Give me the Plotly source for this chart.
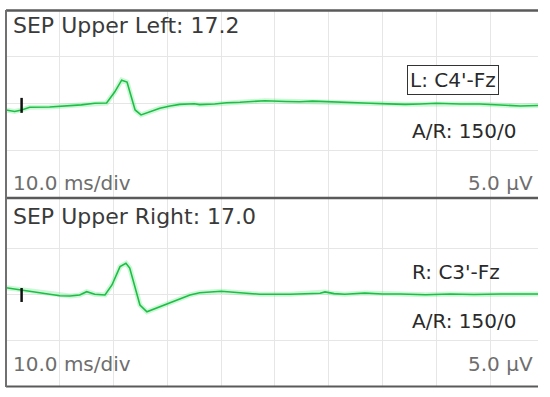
import plotly.graph_objects as go

# time in ms, amplitude in uV
left_t = [0, 1.6, 2.9, 4.4, 8.1, 11.9, 14.0, 16.5, 18.7, 20.2, 21.5, 22.5, 23.2, 24.0, 25.1,
          26.7, 28.6, 30.5, 32.3, 35.0, 36.0, 38.8, 41.0, 43.5, 48.1, 52.0, 54.6, 57.0, 60.2,
          63.0, 67.7, 71.0, 74.2, 77.0, 80.0, 84.4, 88.0, 91.9, 95.6, 98.9]
left_v = [-0.69, -0.85, -0.69, -0.40, -0.37, -0.23, -0.15, 0.02, 0.05, 1.22, 2.50, 2.29, 0.90, -0.69, -1.22,
          -0.87, -0.51, -0.27, -0.09, -0.02, -0.12, -0.05, 0.08, 0.13, 0.30, 0.22, 0.19, 0.25, 0.16,
          0.10, 0.02, -0.04, -0.09, -0.05, 0.02, -0.05, -0.05, -0.16, -0.27, -0.21]

right_t = [0, 2.9, 6.3, 10.0, 11.9, 13.7, 15.0, 16.5, 18.4, 19.7, 21.2, 22.3, 23.0, 23.9, 24.9,
           26.2, 28.6, 31.4, 34.2, 36.0, 37.9, 40.0, 43.5, 47.2, 52.8, 58.4, 59.3, 61.0, 63.0,
           66.7, 70.0, 73.3, 78.0, 82.6, 87.0, 91.9, 98.9]
right_v = [0.79, 0.54, 0.25, -0.08, -0.11, 0.00, 0.36, 0.08, 0.00, 1.09, 3.08, 3.45, 2.93, 1.09, -1.09,
           -1.82, -1.27, -0.65, 0.00, 0.25, 0.33, 0.40, 0.25, 0.08, 0.08, 0.18, 0.33, 0.15, 0.08,
           0.22, 0.10, 0.11, 0.02, 0.11, 0.05, 0.11, 0.11]

stim_t = [2.9, 2.9]
stim_left = [0.6, -1.0]
stim_right = [0.76, -0.76]

titles = ["SEP Upper Left: 17.2", "SEP Upper Right: 17.0"]
montages = ["L: C4'-Fz", "R: C3'-Fz"]
ar_label = "A/R: 150/0"
timebase = "10.0 ms/div"
sensitivity = "5.0 \u00b5V"

W, H = 550, 397
ML, MR, MT, MB = 6, 12, 10, 10
PW, PH = W - ML - MR, H - MT - MB


def px(x):
    return (x - ML) / PW


def py(y):
    return (H - MB - y) / PH


fig = go.Figure()

green = "#1cbf45"
glow = "rgba(90,230,120,0.30)"

for t, v, ya, xa in [(left_t, left_v, "y", "x"), (right_t, right_v, "y2", "x2")]:
    fig.add_trace(go.Scatter(x=t, y=v, mode="lines", xaxis=xa, yaxis=ya,
                             line=dict(color=glow, width=5), hoverinfo="skip"))
    fig.add_trace(go.Scatter(x=t, y=v, mode="lines", xaxis=xa, yaxis=ya,
                             line=dict(color=green, width=1.6)))

fig.add_trace(go.Scatter(x=stim_t, y=stim_left, mode="lines", xaxis="x", yaxis="y",
                         line=dict(color="#111111", width=2.5)))
fig.add_trace(go.Scatter(x=stim_t, y=stim_right, mode="lines", xaxis="x2", yaxis="y2",
                         line=dict(color="#111111", width=2.5)))

grid = "#e6e6e6"
xcommon = dict(range=[0, 98.9], dtick=10, tick0=0, showgrid=True, gridcolor=grid, gridwidth=1,
               showticklabels=False, zeroline=False, ticks="", fixedrange=True)
top_dom = [py(197), 1]
bot_dom = [0, py(199)]

fig.update_layout(
    width=W, height=H,
    margin=dict(l=ML, r=MR, t=MT, b=MB),
    paper_bgcolor="white", plot_bgcolor="white",
    showlegend=False,
    font=dict(family="DejaVu Sans", size=20, color="#333333"),
    xaxis=dict(xcommon, anchor="y"),
    xaxis2=dict(xcommon, anchor="y2"),
    yaxis=dict(domain=top_dom, range=[-10, 10], tickvals=[-5, 0, 5], showgrid=True, gridcolor=grid,
               showticklabels=False, zeroline=False, ticks="", fixedrange=True),
    yaxis2=dict(domain=bot_dom, range=[-10, 10.43], tickvals=[-5, 0, 5], showgrid=True, gridcolor=grid,
                showticklabels=False, zeroline=False, ticks="", fixedrange=True),
)

# panel borders
border = "#5a5a5a"
for yy, w in [(10.5, 2.5), (198, 2.5), (386.5, 2)]:
    fig.add_shape(type="line", xref="paper", yref="paper", x0=0, x1=1, y0=py(yy), y1=py(yy),
                  line=dict(color=border, width=w))
fig.add_shape(type="line", xref="paper", yref="paper", x0=px(6), x1=px(6), y0=py(387), y1=py(10),
              line=dict(color="#707070", width=2))

dark = "#2a2a2a"
gray = "#6e6e6e"


def label(text, x, y, xanchor="left", color=dark, size=20, **kw):
    fig.add_annotation(text=text, x=px(x), y=py(y), xref="paper", yref="paper",
                       xanchor=xanchor, yanchor="middle", showarrow=False,
                       font=dict(color=color, size=size), **kw)


label(titles[0], 11, 26, color="#3a3a3a", size=22)
label(titles[1], 11, 216, color="#3a3a3a", size=22)
label(montages[0], 453, 80, xanchor="center", bordercolor="#333333", borderwidth=1, borderpad=2,
      bgcolor="white")
label(montages[1], 410, 272)
label(ar_label, 410, 131)
label(ar_label, 410, 321)
label(timebase, 11, 183, color=gray)
label(timebase, 11, 364, color=gray)
label(sensitivity, 535, 183, xanchor="right", color=gray)
label(sensitivity, 535, 364, xanchor="right", color=gray)

# drop the default page margin so the figure sits at the window origin
fig.write_html("out.html", config={"displayModeBar": False},
               post_script="document.body.style.margin='0';")
